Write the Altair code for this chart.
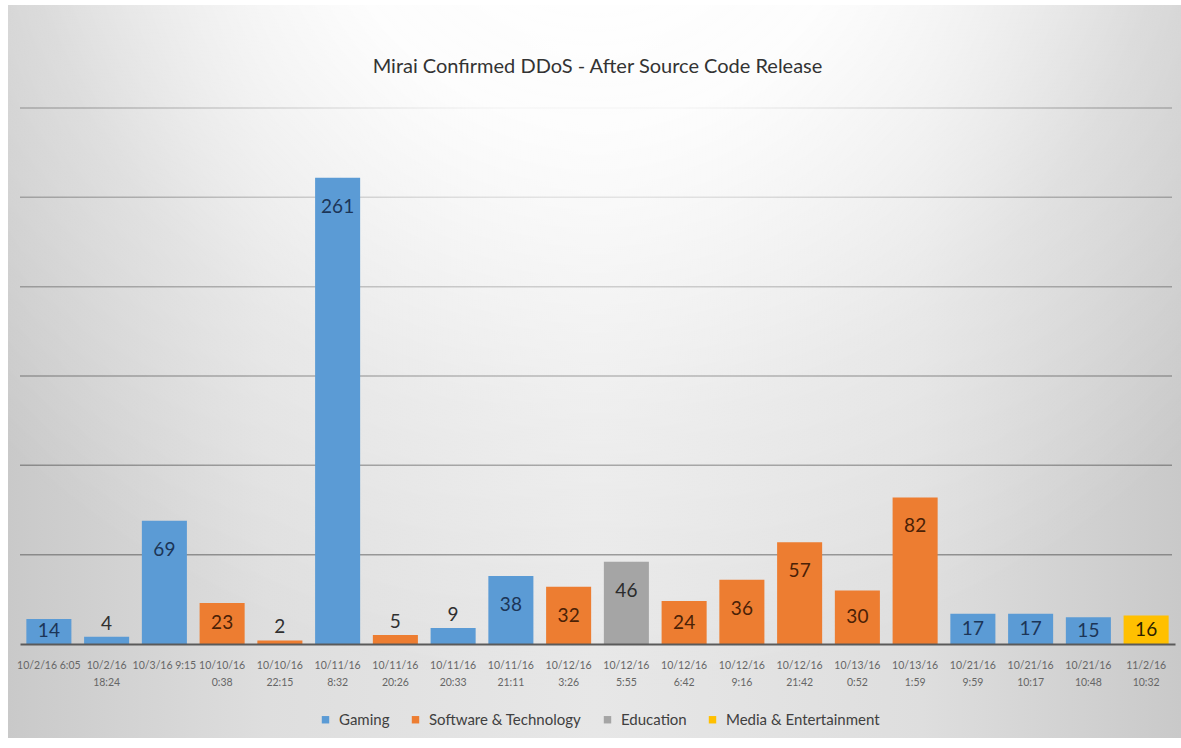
import altair as alt
import pandas as pd

# ---- data ----
labels = [
    "10/2/16 6:05", "10/2/16|18:24", "10/3/16 9:15", "10/10/16|0:38", "10/10/16|22:15",
    "10/11/16|8:32", "10/11/16|20:26", "10/11/16|20:33", "10/11/16|21:11", "10/12/16|3:26",
    "10/12/16|5:55", "10/12/16|6:42", "10/12/16|9:16", "10/12/16|21:42", "10/13/16|0:52",
    "10/13/16|1:59", "10/21/16|9:59", "10/21/16|10:17", "10/21/16|10:48", "11/2/16|10:32",
]
values = [14, 4, 69, 23, 2, 261, 5, 9, 38, 32, 46, 24, 36, 57, 30, 82, 17, 17, 15, 16]
sectors = [
    "Gaming", "Gaming", "Gaming", "Software & Technology", "Software & Technology",
    "Gaming", "Software & Technology", "Gaming", "Gaming", "Software & Technology",
    "Education", "Software & Technology", "Software & Technology", "Software & Technology",
    "Software & Technology", "Software & Technology", "Gaming", "Gaming", "Gaming",
    "Media & Entertainment",
]
sector_order = ["Gaming", "Software & Technology", "Education", "Media & Entertainment"]
bar_colors = ["#5B9BD5", "#ED7D31", "#A5A5A5", "#FFC000"]
text_colors = ["#1c3557", "#4a2106", "#2b2b2b", "#2b2200"]
grid_values = [50, 100, 150, 200, 250, 300]

df = pd.DataFrame({"label": labels, "value": values, "sector": sectors})

FONT = "Lato, 'Open Sans', sans-serif"
W, H = 1155, 536

yscale = alt.Scale(domain=[0, 300], nice=False)

# ---- background (gradient) ----
one = pd.DataFrame({"k": [0]})
bg = alt.Chart(one).mark_rect(
    fill=alt.LinearGradient(
        gradient="linear",
        stops=[
            alt.GradientStop(color="#c9c9c9", offset=0),
            alt.GradientStop(color="#dedede", offset=0.22),
            alt.GradientStop(color="#e7e7e7", offset=0.5),
            alt.GradientStop(color="#dedede", offset=0.78),
            alt.GradientStop(color="#c9c9c9", offset=1),
        ],
        x1=0, x2=1, y1=0, y2=0,
    )
).encode(x=alt.value(-12), x2=alt.value(W + 6), y=alt.value(-103), y2=alt.value(H + 94))

grid = alt.Chart(pd.DataFrame({"g": grid_values})).mark_rule(
    color="#8a8a8a", strokeWidth=1.5
).encode(y=alt.Y("g:Q", scale=yscale, axis=None), x=alt.value(0), x2=alt.value(W - 3))

glow = alt.Chart(one).mark_rect(
    fill=alt.RadialGradient(
        gradient="radial",
        stops=[
            alt.GradientStop(color="rgba(255,255,255,1)", offset=0),
            alt.GradientStop(color="rgba(255,255,255,0.92)", offset=0.33),
            alt.GradientStop(color="rgba(255,255,255,0.3)", offset=0.68),
            alt.GradientStop(color="rgba(255,255,255,0)", offset=1),
        ],
        x1=0.5, y1=0.05, r1=0, x2=0.5, y2=0.05, r2=0.72,
    )
).encode(x=alt.value(-12), x2=alt.value(W + 6), y=alt.value(-103), y2=alt.value(H + 94))

xenc = alt.X(
    "label:N", sort=labels,
    scale=alt.Scale(paddingInner=0.22, paddingOuter=0.11),
    axis=alt.Axis(
        title=None, labelAngle=0, labelExpr="split(datum.label, '|')",
        labelFont=FONT, labelFontSize=10.5, labelColor="#666666", labelLineHeight=17,
        labelPadding=16, ticks=False, domainColor="#5a5a5a", domainWidth=2,
        labelOverlap=False, labelBound=False, labelLimit=0, zindex=1, grid=False,
    ),
)

bars = alt.Chart(df).mark_bar().encode(
    x=xenc,
    y=alt.Y("value:Q", scale=yscale, axis=None),
    color=alt.Color(
        "sector:N",
        scale=alt.Scale(domain=sector_order, range=bar_colors),
        legend=alt.Legend(
            title=None, orient="none", direction="horizontal",
            legendX=298, legendY=604,
            labelFont=FONT, labelFontSize=15, labelColor="#404040", labelLimit=0,
            symbolType="square", symbolSize=55, symbolStrokeWidth=0,
            columnPadding=18, labelOffset=6,
        ),
    ),
)

fill_enc = alt.Fill(
    "sector:N", scale=alt.Scale(domain=sector_order, range=text_colors), legend=None
)

VFS = 19

txt_top = alt.Chart(df).transform_filter("datum.value >= 32").mark_text(
    font=FONT, fontSize=VFS, baseline="middle", dy=29
).encode(x=alt.X("label:N", sort=labels), y=alt.Y("value:Q", scale=yscale, axis=None),
         fill=fill_enc, text="value:Q")

txt_mid = alt.Chart(df).transform_filter(
    "datum.value >= 10 && datum.value < 32"
).transform_calculate(mid="datum.value / 2").mark_text(
    font=FONT, fontSize=VFS, baseline="middle"
).encode(x=alt.X("label:N", sort=labels), y=alt.Y("mid:Q", scale=yscale, axis=None),
         fill=fill_enc, text="value:Q")

txt_out = alt.Chart(df).transform_filter("datum.value < 10").mark_text(
    font=FONT, fontSize=VFS, baseline="middle", dy=-13, color="#303030"
).encode(x=alt.X("label:N", sort=labels), y=alt.Y("value:Q", scale=yscale, axis=None),
         text="value:Q")

chart = alt.layer(bg, grid, glow, bars, txt_top, txt_mid, txt_out).properties(
    width=W, height=H,
    title=alt.TitleParams(
        "Mirai Confirmed DDoS - After Source Code Release",
        font=FONT, fontSize=20, color="#333333", fontWeight="normal",
        anchor="middle", offset=-92, baseline="bottom",
    ),
    autosize=alt.AutoSizeParams(type="none"),
    padding={"left": 20, "top": 108, "right": 6, "bottom": 104},
).configure_view(stroke=None).configure(background="white")

chart.save("out.html", embed_options={"renderer": "svg", "actions": False})
